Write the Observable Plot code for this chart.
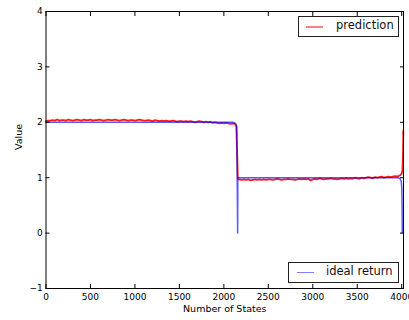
<!DOCTYPE html>
<html>
<head>
<meta charset="utf-8">
<script src="https://cdn.jsdelivr.net/npm/d3@7"></script>
<script src="https://cdn.jsdelivr.net/npm/@observablehq/plot@0.6"></script>
<style>
  html, body { margin: 0; padding: 0; background: white; }
  #wrap { position: relative; width: 409px; height: 320px; overflow: hidden; font-family: "DejaVu Sans", sans-serif; }
  .legend { position: absolute; background: white; border: 1px solid #222; box-sizing: border-box; }
  .legend .swatch { position: absolute; height: 1.5px; }
  .legend .lab { position: absolute; font-size: 11.5px; line-height: 1; color: #111; white-space: nowrap; }
</style>
</head>
<body>
<div id="wrap"></div>
<script>
// ---- data ----
const xTicks = [0, 500, 1000, 1500, 2000, 2500, 3000, 3500, 4000];
const yTicks = [-1, 0, 1, 2, 3, 4];
const xDomain = [0, 4020];
const yDomain = [-1, 4];

const sampleStep = 25;
// prediction, first plateau (states 0..2125, every 25)
const predSeg1Start = 0;
const predSeg1 = [
  2.02,2.03,2.03,2.04,2.03,2.05,2.03,2.04,2.04,2.03,
  2.05,2.04,2.03,2.04,2.05,2.04,2.03,2.05,2.04,2.04,
  2.05,2.03,2.04,2.04,2.05,2.04,2.03,2.04,2.05,2.04,
  2.04,2.05,2.04,2.03,2.04,2.05,2.04,2.03,2.04,2.04,
  2.03,2.04,2.05,2.04,2.03,2.03,2.04,2.03,2.02,2.04,
  2.03,2.02,2.03,2.02,2.03,2.02,2.02,2.03,2.02,2.01,
  2.02,2.02,2.01,2.02,2.01,2.02,2.01,2.00,2.01,2.02,
  2.01,2.00,2.01,2.00,2.01,1.99,2.00,1.99,1.98,1.99,
  1.98,1.99,1.98,1.97,1.98,1.97
];
// prediction, drop
const predStepStates = [2140, 2150, 2157, 2165];
const predStepValues = [1.93, 1.40, 1.00, 0.97];
// prediction, second plateau (states 2175..3975, every 25)
const predSeg2Start = 2175;
const predSeg2 = [
  0.97,0.96,0.97,0.96,0.97,0.95,0.96,0.97,0.96,0.97,
  0.96,0.97,0.96,0.97,0.97,0.96,0.97,0.98,0.97,0.96,
  0.97,0.97,0.98,0.97,0.97,0.96,0.97,0.98,0.97,0.98,
  0.97,0.98,0.95,0.97,0.98,0.97,0.99,0.98,0.97,0.98,
  0.98,0.99,0.98,0.98,0.97,0.98,0.99,0.98,0.99,0.98,
  0.99,0.98,1.00,0.99,0.98,1.00,0.99,1.00,1.01,1.00,
  0.99,1.01,1.00,1.01,1.02,1.00,1.01,1.02,1.01,1.02,
  1.03,1.02,1.04
];
// prediction, final rise
const predEndStates = [3990, 4000, 4008, 4014, 4018];
const predEndValues = [1.05, 1.08, 1.13, 1.40, 1.85];

// ideal return
const idealStates = [0, 2100, 2120, 2135, 2145, 2155, 2157, 3960, 3982, 3995, 4001, 4004, 4006];
const idealValues = [2.00, 2.00, 1.99, 1.97, 1.92, 0.00, 1.00, 1.00, 0.98, 0.93, 0.80, 0.50, 0.00];

const seriesNames = ["prediction", "ideal return"];
const seriesColors = ["#ff0000", "#0000ff"];
const legendColors = ["#ff8080", "#8080ff"];
const xLabel = "Number of States";
const yLabel = "Value";

// ---- build tables ----
const prediction = [
  ...predSeg1.map((v, i) => ({state: predSeg1Start + i * sampleStep, value: v})),
  ...predStepStates.map((s, i) => ({state: s, value: predStepValues[i]})),
  ...predSeg2.map((v, i) => ({state: predSeg2Start + i * sampleStep, value: v})),
  ...predEndStates.map((s, i) => ({state: s, value: predEndValues[i]}))
];
const ideal = idealStates.map((s, i) => ({state: s, value: idealValues[i]}));

const fmtY = d => d < 0 ? "\u2212" + Math.abs(d) : String(d);

const chart = Plot.plot({
  width: 409,
  height: 320,
  marginLeft: 45.5,
  marginRight: 6,
  marginTop: 11,
  marginBottom: 32,
  style: {fontFamily: "DejaVu Sans", fontSize: "9px", background: "white", color: "black"},
  x: {domain: xDomain},
  y: {domain: yDomain},
  marks: [
    Plot.line(prediction, {x: "state", y: "value", stroke: seriesColors[0], strokeWidth: 1.8, strokeOpacity: 0.9}),
    Plot.line(ideal, {x: "state", y: "value", stroke: seriesColors[1], strokeWidth: 1.5, strokeOpacity: 0.65}),
    Plot.frame({stroke: "black", strokeWidth: 1}),
    Plot.axisX({ticks: xTicks, tickSize: -4, tickPadding: 9.2, tickFormat: d => String(d), label: null, fontSize: 9}),
    Plot.axisX({anchor: "top", ticks: xTicks, tickSize: -4, tickFormat: () => "", label: null}),
    Plot.axisY({ticks: yTicks, tickSize: -4, tickPadding: 7.2, tickFormat: fmtY, label: null, fontSize: 9}),
    Plot.axisY({anchor: "right", ticks: yTicks, tickSize: -4, tickFormat: () => "", label: null}),
    Plot.text([xLabel], {frameAnchor: "bottom", text: d => d, dy: 23, fontSize: 9.5}),
    Plot.text([yLabel], {frameAnchor: "left", text: d => d, rotate: -90, dx: -27, fontSize: 9.5})
  ]
});

const wrap = document.getElementById("wrap");
wrap.appendChild(chart);

function addLegend(name, color, box, swatch, textLeft) {
  const el = document.createElement("div");
  el.className = "legend";
  el.style.left = box[0] + "px";
  el.style.top = box[1] + "px";
  el.style.width = box[2] + "px";
  el.style.height = box[3] + "px";
  const sw = document.createElement("div");
  sw.className = "swatch";
  sw.style.left = swatch[0] + "px";
  sw.style.top = swatch[1] + "px";
  sw.style.width = swatch[2] + "px";
  sw.style.background = color;
  const lab = document.createElement("div");
  lab.className = "lab";
  lab.style.left = textLeft + "px";
  lab.style.top = (box[3] / 2 - 7.5) + "px";
  lab.textContent = name;
  el.appendChild(sw);
  el.appendChild(lab);
  wrap.appendChild(el);
}
addLegend(seriesNames[0], legendColors[0], [298, 16, 101, 21], [7, 9, 17], 37);
addLegend(seriesNames[1], legendColors[1], [288, 262, 111, 21], [8, 8.5, 17], 37);
</script>
</body>
</html>
